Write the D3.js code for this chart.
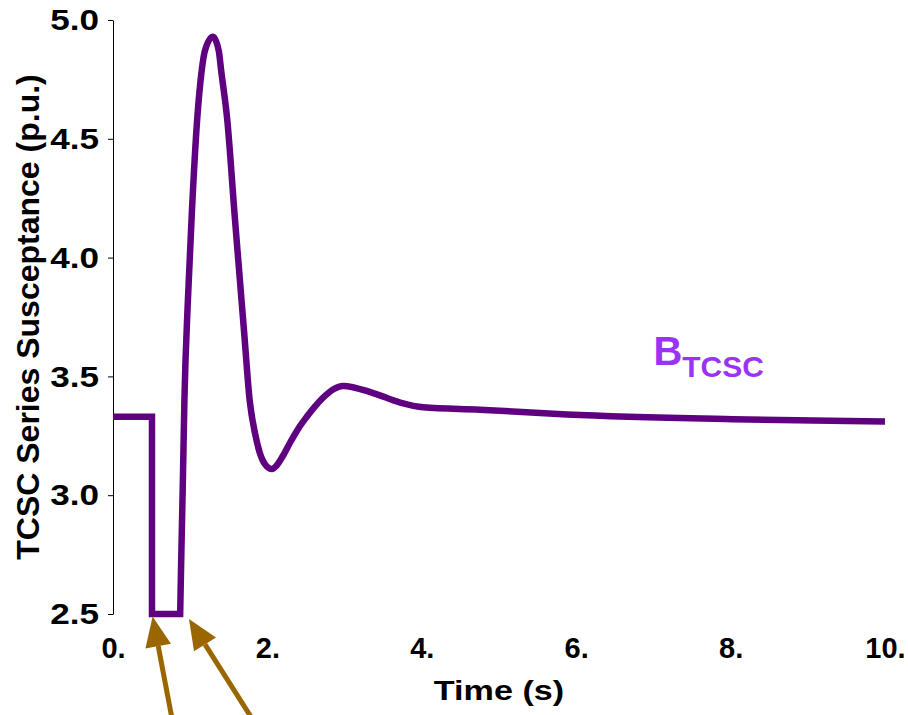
<!DOCTYPE html>
<html>
<head>
<meta charset="utf-8">
<script src="https://cdn.jsdelivr.net/npm/d3@7"></script>
<style>
  body { margin: 0; background: #fff; }
  text { font-family: "Liberation Sans", Arial, sans-serif; font-weight: bold; }
</style>
</head>
<body>
<div id="chart"></div>
<script>
// time (s) and TCSC series susceptance (p.u.)
var timeS = [0, 0.505, 0.505, 0.87, 0.885, 0.905, 0.925, 0.97, 1.02, 1.09, 1.15, 1.19, 1.295,
             1.37, 1.40, 1.48, 1.58, 1.63, 1.70, 1.77, 1.84, 1.90, 1.97, 2.06, 2.12, 2.20,
             2.30, 2.40, 2.51, 2.62, 2.72, 2.85, 2.98, 3.37, 3.72, 4.02, 4.75, 5.88, 8.03, 10];
var bTcsc = [3.33, 3.33, 2.50, 2.50, 2.75, 3.06, 3.40, 3.82, 4.18, 4.58, 4.79, 4.87, 4.93,
             4.87, 4.79, 4.58, 4.16, 3.96, 3.68, 3.40, 3.26, 3.18, 3.13, 3.11, 3.125, 3.165,
             3.225, 3.28, 3.33, 3.375, 3.41, 3.445, 3.46, 3.43, 3.39, 3.37, 3.36, 3.34, 3.32, 3.31];

var xTicks = [0, 2, 4, 6, 8, 10];
var yTicks = [2.5, 3.0, 3.5, 4.0, 4.5, 5.0];

// annotation arrows (fault applied / cleared), in data units
var arrowTipT  = [0.513, 0.984];
var arrowTipV  = [2.489, 2.479];
var arrowTailT = [0.77, 1.82];
var arrowTailV = [2.05, 2.05];

var width = 908, height = 715;
var margin = {top: 20, right: 23, bottom: 101, left: 113};
var w = width - margin.left - margin.right,
    h = height - margin.top - margin.bottom;

var x = d3.scaleLinear().domain([0, 10]).range([0, w]);
var y = d3.scaleLinear().domain([2.5, 5.0]).range([h, 0]);

var svg = d3.select("#chart").append("svg")
    .attr("width", width)
    .attr("height", height)
  .append("g")
    .attr("transform", "translate(" + margin.left + "," + margin.top + ")");

// y axis
var yAxis = svg.append("g")
    .call(d3.axisLeft(y).tickValues(yTicks).tickSize(5).tickSizeOuter(0)
      .tickFormat(d3.format(".1f")));
yAxis.select(".domain").attr("stroke", "#000").attr("stroke-width", 1);
yAxis.selectAll("text")
    .attr("font-size", 30)
    .attr("fill", "#000")
    .attr("x", -12)
    .attr("transform", "scale(1.17,1)");

// x axis: labels only, no line
var xAxis = svg.append("g")
    .attr("transform", "translate(0," + h + ")")
    .call(d3.axisBottom(x).tickValues(xTicks).tickSize(0).tickPadding(23)
      .tickFormat(function(d) { return d + "."; }));
xAxis.select(".domain").remove();
xAxis.selectAll("text").attr("font-size", 29).attr("fill", "#000");

// axis titles
svg.append("text")
    .attr("transform", "translate(" + (w / 2) + "," + (h + 86) + ") scale(1.22,1)")
    .attr("text-anchor", "middle")
    .attr("font-size", 28)
    .text("Time (s)");

svg.append("text")
    .attr("transform", "translate(" + (39 - margin.left) + "," + (h / 2) + ") rotate(-90)")
    .attr("text-anchor", "middle")
    .attr("font-size", 32)
    .text("TCSC Series Susceptance (p.u.)");

// the curve: step part straight, the rest smooth
var pts = timeS.map(function(t, i) { return [t, bTcsc[i]]; });
var stepLine = d3.line()
    .x(function(d) { return x(d[0]); })
    .y(function(d) { return y(d[1]); });
var smoothLine = d3.line()
    .x(function(d) { return x(d[0]); })
    .y(function(d) { return y(d[1]); })
    .curve(d3.curveMonotoneX);

svg.append("path")
    .attr("d", stepLine(pts.slice(0, 4)) + smoothLine(pts.slice(3)).replace(/^M/, "L"))
    .attr("fill", "none")
    .attr("stroke", "#5f0080")
    .attr("stroke-width", 6.5)
    .attr("stroke-linejoin", "miter");

// series label
var lbl = svg.append("text")
    .attr("x", x(7.0))
    .attr("y", y(3.55))
    .attr("fill", "#9b33f5")
    .attr("font-size", 40);
lbl.append("tspan").text("B");
lbl.append("tspan").attr("font-size", 30).attr("dy", 12).text("TCSC");

// arrows
var arrowColor = "#996600";
arrowTipT.forEach(function(t, i) {
  var x1 = x(arrowTailT[i]), y1 = y(arrowTailV[i]),
      x2 = x(t), y2 = y(arrowTipV[i]);
  var ang = Math.atan2(y2 - y1, x2 - x1),
      len = 30, half = 13;
  var bx = x2 - len * Math.cos(ang), by = y2 - len * Math.sin(ang);
  svg.append("line")
      .attr("x1", x1).attr("y1", y1)
      .attr("x2", bx).attr("y2", by)
      .attr("stroke", arrowColor)
      .attr("stroke-width", 5);
  svg.append("path")
      .attr("d", "M" + x2 + "," + y2 +
        "L" + (bx + half * Math.sin(ang)) + "," + (by - half * Math.cos(ang)) +
        "L" + (bx - half * Math.sin(ang)) + "," + (by + half * Math.cos(ang)) + "Z")
      .attr("fill", arrowColor);
});
</script>
</body>
</html>
